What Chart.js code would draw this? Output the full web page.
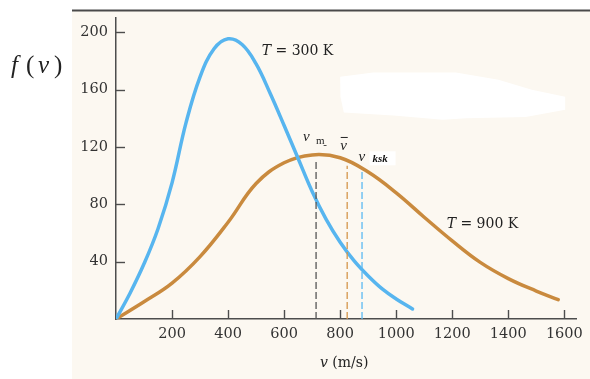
<!DOCTYPE html>
<html><head><meta charset="utf-8">
<style>html,body{margin:0;padding:0;background:#fff;overflow:hidden}canvas{display:block}</style>
<script src="https://cdn.jsdelivr.net/npm/chart.js@4/dist/chart.umd.min.js"></script>
</head><body><canvas id="c" width="590" height="379"></canvas>
<script>
// ---- data ----
const speeds300 = [0, 50, 100, 150, 200, 250, 300, 350, 400, 450, 500, 550, 600, 650, 700, 750, 800, 850, 900, 950, 1000, 1058];
const f300      = [0, 18, 38.5, 63, 95, 137, 169, 188.5, 195.5, 191.5, 178, 157.5, 135, 112, 89, 69.5, 53.5, 40.5, 30, 21, 14, 7];
const speeds900 = [0, 100, 200, 300, 400, 500, 600, 700, 800, 900, 1000, 1100, 1200, 1300, 1400, 1500, 1578];
const f900      = [0, 12, 25, 43.5, 67.5, 94.5, 109, 114.5, 112.5, 102.5, 88, 71, 54.5, 39.5, 28.2, 19.5, 13.5];
const markerSpeeds = [714, 825, 878];     // v_m, v-bar, v_rms (ksk)
const markerTops   = [110, 107, 104];
const xTickValues = [200, 400, 600, 800, 1000, 1200, 1400, 1600];
const yTickValues = [40, 80, 120, 160, 200];

const BLUE = '#57b5ef', ORANGE = '#c98a3e', AXIS = '#4d4d4d';
const SERIF = '"DejaVu Serif", "Liberation Serif", serif';

const toPts = (xs, ys) => xs.map((x, i) => ({x, y: ys[i]}));
const markerColors = ['#555555', '#d4964a', '#5bb9f2'];
const markerSets = markerSpeeds.map((v, i) => ({
  data: [{x: v, y: 0}, {x: v, y: markerTops[i]}],
  borderColor: markerColors[i], borderWidth: 1.3, borderDash: [7, 3],
  pointRadius: 0, tension: 0
}));

const decor = {
  id: 'decor',
  beforeDraw(chart) {
    const c = chart.ctx;
    c.save();
    c.fillStyle = '#ffffff'; c.fillRect(0, 0, chart.width, chart.height);
    c.fillStyle = '#fcf8f1'; c.fillRect(72, 11, chart.width - 72, chart.height - 11);
    c.strokeStyle = '#4a4a4a'; c.lineWidth = 2;
    c.beginPath(); c.moveTo(72, 10.5); c.lineTo(chart.width, 10.5); c.stroke();
    c.restore();
  },
  afterDraw(chart) {
    const c = chart.ctx, xs = chart.scales.x, ys = chart.scales.y;
    const px = v => xs.getPixelForValue(v), py = f => ys.getPixelForValue(f);
    c.save();
    // inward tick marks
    c.strokeStyle = AXIS; c.lineWidth = 1.4;
    yTickValues.forEach(t => { const y = Math.round(py(t)) + 0.5; c.beginPath(); c.moveTo(xs.left, y); c.lineTo(xs.left + 9, y); c.stroke(); });
    xTickValues.forEach(t => { const x = Math.round(px(t)) + 0.5; c.beginPath(); c.moveTo(x, ys.bottom); c.lineTo(x, ys.bottom - 9); c.stroke(); });

    // white erased blob
    const blob = [[800,169],[918,172],[1213,172],[1365,167],[1484,160],[1603,155],[1603,146],[1462,141],[1250,140],[1166,139],[990,142],[813,144],[801,155]];
    c.fillStyle = '#ffffff';
    c.beginPath();
    blob.forEach(([v, f], i) => i ? c.lineTo(px(v), py(f)) : c.moveTo(px(v), py(f)));
    c.closePath(); c.fill();

    c.fillStyle = '#222';
    c.textBaseline = 'alphabetic';
    const mixed = (parts, x, y) => {
      parts.forEach(([txt, font]) => { c.font = font; c.fillText(txt, x, y); x += c.measureText(txt).width; });
      return x;
    };
    // curve labels
    mixed([['T', 'italic 14px ' + SERIF], [' = 300 K', '14px ' + SERIF]], px(520), py(187.4) + 5);
    mixed([['T', 'italic 14px ' + SERIF], [' = 900 K', '14px ' + SERIF]], px(1180), py(67) + 5);

    // speed labels
    c.font = 'italic 15px "Liberation Serif", serif';
    c.fillText('v', px(667), py(124));
    c.font = '11px "Liberation Serif", serif';
    c.fillText('m', px(714), py(122));
    c.fillText('-', px(740), py(119.5));
    c.font = 'italic 15px "Liberation Serif", serif';
    c.fillText('v', px(800), py(118));
    c.strokeStyle = '#222'; c.lineWidth = 1;
    c.beginPath(); c.moveTo(px(802), py(127) + 0.5); c.lineTo(px(827), py(127) + 0.5); c.stroke();
    c.fillText('v', px(865), py(110.5));
    c.fillStyle = '#ffffff'; c.fillRect(px(905), py(117), 26, 14);
    c.fillStyle = '#111';
    c.font = 'bold italic 11px "Liberation Serif", serif';
    c.fillText('ksk', px(915), py(109.5));

    // axis titles
    c.fillStyle = '#222';
    mixed([['v', 'italic 14px ' + SERIF], [' (m/s)', '14px ' + SERIF]], 320, 367);
    c.font = 'italic 25px "Liberation Serif", serif';
    c.fillText('f', 11, 73);
    c.font = '25px "Liberation Serif", serif';
    c.fillText('(', 26, 73);
    c.font = 'italic 25px "Liberation Serif", serif';
    c.fillText('v', 38, 73);
    c.font = '25px "Liberation Serif", serif';
    c.fillText(')', 54, 73);
    c.restore();
  }
};

new Chart(document.getElementById('c'), {
  type: 'line',
  data: {
    datasets: [
      ...markerSets,
      { data: toPts(speeds300, f300), borderColor: BLUE, borderWidth: 3.5, pointRadius: 0, tension: 0.4, borderCapStyle: 'round' },
      { data: toPts(speeds900, f900), borderColor: ORANGE, borderWidth: 3.5, pointRadius: 0, tension: 0.4, borderCapStyle: 'round' }
    ]
  },
  options: {
    responsive: false, animation: false, devicePixelRatio: 1,
    layout: { padding: { top: 18, right: 8, bottom: 0, left: 0 } },
    plugins: { legend: { display: false }, tooltip: { enabled: false } },
    scales: {
      x: {
        type: 'linear', min: 0, max: 1643,
        afterBuildTicks: s => { s.ticks = xTickValues.map(v => ({value: v})); },
        afterFit: s => { s.height = 60; },
        grid: { drawOnChartArea: false, drawTicks: false },
        border: { color: AXIS, width: 1.5 },
        ticks: { padding: 7, color: '#333', font: { family: SERIF, size: 14.5 }, maxRotation: 0, autoSkip: false, callback: v => String(v) }
      },
      y: {
        min: 0, max: 210,
        afterBuildTicks: s => { s.ticks = yTickValues.map(v => ({value: v})); },
        afterFit: s => { s.width = 116; },
        grid: { drawOnChartArea: false, drawTicks: false },
        border: { color: AXIS, width: 1.5 },
        ticks: { padding: 8, color: '#333', font: { family: SERIF, size: 14.5 }, callback: v => String(v) }
      }
    }
  },
  plugins: [decor]
});
</script></body></html>
